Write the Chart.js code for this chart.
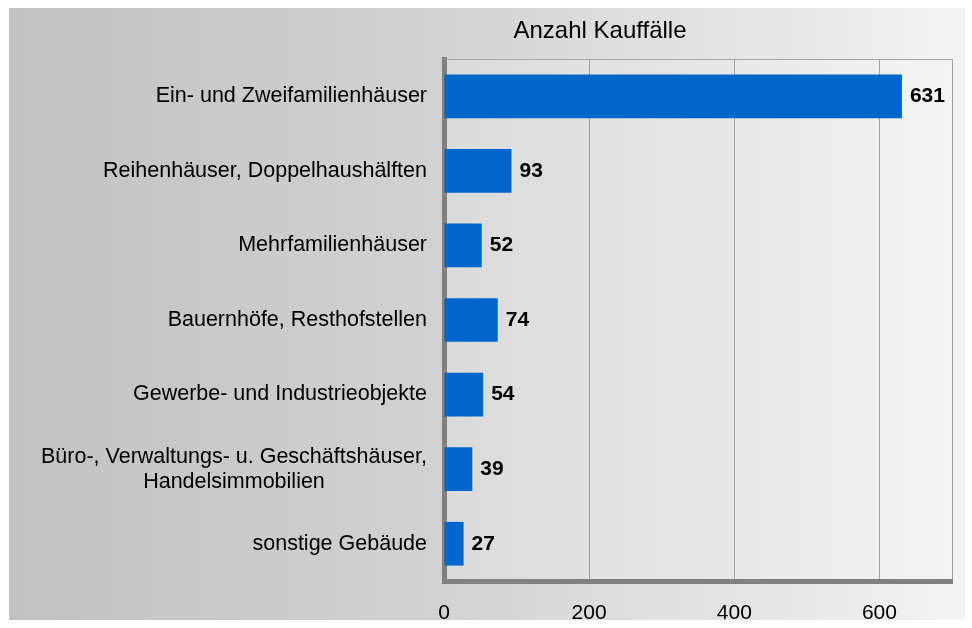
<!DOCTYPE html>
<html>
<head>
<meta charset="utf-8">
<script src="https://cdn.jsdelivr.net/npm/chart.js@4.4.1/dist/chart.umd.min.js"></script>
<style>
  html, body { margin: 0; padding: 0; background: #ffffff; }
  #wrap { width: 972px; height: 628px; }
</style>
</head>
<body>
<div id="wrap"><canvas id="c" width="972" height="628"></canvas></div>
<script>
const chartTitle = 'Anzahl Kauffälle';
const categories = [
  'Ein- und Zweifamilienhäuser',
  'Reihenhäuser, Doppelhaushälften',
  'Mehrfamilienhäuser',
  'Bauernhöfe, Resthofstellen',
  'Gewerbe- und Industrieobjekte',
  ['Büro-, Verwaltungs- u. Geschäftshäuser,', 'Handelsimmobilien'],
  'sonstige Gebäude'
];
const counts = [631, 93, 52, 74, 54, 39, 27];
const xTickLabels = [0, 200, 400, 600];
const xMax = 700;

const FONT = '"Liberation Sans", Arial, sans-serif';

const decor = {
  id: 'decor',
  beforeDraw(chart) {
    const ctx = chart.ctx;
    const ca = chart.chartArea;
    ctx.save();
    let g = ctx.createLinearGradient(9, 0, 965, 0);
    g.addColorStop(0, '#c1c1c1');
    g.addColorStop(0.45, '#d2d2d2');
    g.addColorStop(1, '#f3f3f3');
    ctx.fillStyle = g;
    ctx.fillRect(9, 8, 956, 612);
    g = ctx.createLinearGradient(ca.left, 0, ca.right, 0);
    g.addColorStop(0, '#dadada');
    g.addColorStop(1, '#f3f3f3');
    ctx.fillStyle = g;
    ctx.fillRect(ca.left, ca.top, ca.right - ca.left, ca.bottom - ca.top);
    ctx.fillStyle = '#000';
    ctx.font = '24px ' + FONT;
    ctx.textAlign = 'center';
    ctx.textBaseline = 'middle';
    ctx.fillText(chartTitle, 600, 31);
    ctx.restore();
  },
  afterDraw(chart) {
    const ctx = chart.ctx;
    const ca = chart.chartArea;
    const yScale = chart.scales.y;
    ctx.save();
    ctx.strokeStyle = '#a6a6a6';
    ctx.lineWidth = 1;
    ctx.beginPath();
    ctx.moveTo(ca.left, ca.top + 0.5);
    ctx.lineTo(ca.right, ca.top + 0.5);
    ctx.stroke();
    ctx.fillStyle = '#000';
    ctx.font = '21.5px ' + FONT;
    ctx.textBaseline = 'middle';
    ctx.textAlign = 'center';
    const rightEdge = ca.left - 17;
    const lh = 25;
    chart.data.labels.forEach((lab, i) => {
      const lines = Array.isArray(lab) ? lab : [lab];
      const w = Math.max(...lines.map(l => ctx.measureText(l).width));
      const cx = rightEdge - w / 2;
      const cy = yScale.getPixelForValue(i);
      const y0 = cy - (lines.length - 1) * lh / 2;
      lines.forEach((l, k) => ctx.fillText(l, cx, y0 + k * lh));
    });
    ctx.font = 'bold 21px ' + FONT;
    ctx.textAlign = 'left';
    const meta = chart.getDatasetMeta(0);
    meta.data.forEach((el, i) => {
      ctx.fillText(String(chart.data.datasets[0].data[i]), el.x + 8, el.y);
    });
    ctx.restore();
  }
};

new Chart(document.getElementById('c'), {
  type: 'bar',
  data: {
    labels: categories,
    datasets: [{
      data: counts,
      backgroundColor: '#0066cc',
      borderWidth: 0,
      barPercentage: 0.586,
      categoryPercentage: 1
    }]
  },
  options: {
    indexAxis: 'y',
    responsive: false,
    animation: false,
    devicePixelRatio: 1,
    layout: { padding: { top: 59, right: 18, left: 0, bottom: 0 } },
    plugins: {
      legend: { display: false },
      title: { display: false },
      tooltip: { enabled: false }
    },
    scales: {
      x: {
        min: 0,
        max: xMax,
        afterFit(scale) { scale.height = 47; },
        ticks: {
          stepSize: 200,
          color: '#000',
          font: { family: FONT, size: 21 },
          padding: 20,
          maxRotation: 0,
          callback: (v) => xTickLabels.includes(v) ? String(v) : ''
        },
        grid: { color: '#a0a0a0', lineWidth: 1, drawTicks: false },
        border: { display: true, color: '#808080', width: 5 }
      },
      y: {
        z: 1,
        afterFit(scale) { scale.width = 444; },
        ticks: { display: false },
        grid: { display: false, drawTicks: false },
        border: { display: true, color: '#808080', width: 5 }
      }
    }
  },
  plugins: [decor]
});
</script>
</body>
</html>
